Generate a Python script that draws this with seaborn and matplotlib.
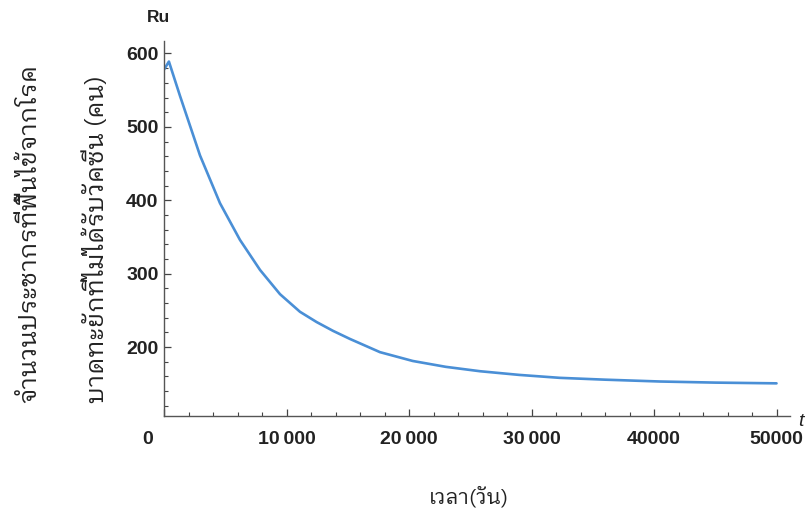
import numpy as np
import pandas as pd
import seaborn as sns
import matplotlib
matplotlib.use("Agg")
import matplotlib.pyplot as plt
from matplotlib import font_manager
from matplotlib.ft2font import FT2Font
from matplotlib.ticker import FixedLocator, MultipleLocator
import matplotlib.transforms as mtransforms

# ---- data ----
t_days = [0, 400, 1310, 2940, 4570, 6200, 7840, 9470, 11100, 12460,
          13800, 15180, 17630, 20300, 23000, 25800, 29000, 32300, 36000,
          40500, 45000, 50000]
ru_vals = [578, 589, 542, 461, 396, 346, 305, 272, 248, 234,
           222, 211, 193, 181, 173, 167, 162, 158, 155.5,
           153, 151.5, 150.5]
x_ticks = [0, 10000, 20000, 30000, 40000, 50000]
x_tick_labels = ["0", "10\u2009000", "20\u2009000", "30\u2009000", "40000", "50000"]
y_ticks = [200, 300, 400, 500, 600]
y_label_line1 = "จำนวนประชากรที่ฟื้นไข้จากโรค"
y_label_line2 = "บาดทะยักที่ไม่ได้รับวัคซีน (คน)"
x_label = "เวลา(วัน)"

df = pd.DataFrame({"t": t_days, "Ru": ru_vals})

sns.set_theme(style="white")
plt.rcParams["font.family"] = ["Liberation Sans", "DejaVu Sans"]
plt.rcParams.update({
    "xtick.bottom": True, "ytick.left": True,
    "xtick.direction": "in", "ytick.direction": "in",
    "xtick.major.size": 5, "ytick.major.size": 5,
    "xtick.minor.size": 3, "ytick.minor.size": 3,
    "xtick.major.width": 0.9, "ytick.major.width": 0.9,
    "xtick.minor.width": 0.8, "ytick.minor.width": 0.8,
    "xtick.color": "#444444", "ytick.color": "#444444",
})

# find an installed font with Thai glyphs (prefer looped styles)
thai_fonts = []
for f in font_manager.fontManager.ttflist:
    try:
        if 0x0E08 in FT2Font(f.fname).get_charmap():
            thai_fonts.append(f.name)
    except Exception:
        pass
def _rank(n):
    n2 = n.lower()
    for i, key in enumerate(["looped", "garuda", "loma", "sarabun", "norasi", "serif thai"]):
        if key in n2:
            return i
    return 10
thai_fonts.sort(key=_rank)
thai_family = thai_fonts[:1] + ["DejaVu Sans"]

fig = plt.figure(figsize=(8.12, 5.17), dpi=100)
ax = fig.add_axes([164 / 812, 1 - 416 / 517, (790 - 164) / 812, (416 - 41) / 517])

sns.lineplot(data=df, x="t", y="Ru", ax=ax, color="#4a8fd6", linewidth=1.9)

ax.set_xlim(0, 51100)
ax.set_ylim(106, 617)

for s in ["top", "right"]:
    ax.spines[s].set_visible(False)
for s in ["left", "bottom"]:
    ax.spines[s].set_color("#555555")
    ax.spines[s].set_linewidth(1.0)

ax.xaxis.set_major_locator(FixedLocator(x_ticks))
ax.set_xticklabels(x_tick_labels)
ax.xaxis.set_minor_locator(MultipleLocator(2000))
ax.yaxis.set_major_locator(FixedLocator(y_ticks))
ax.yaxis.set_minor_locator(MultipleLocator(20))
ax.tick_params(which="both", direction="in", bottom=True, left=True,
               top=False, right=False)
ax.tick_params(which="major", labelsize=14, labelcolor="#222222")
ax.tick_params(axis="x", which="major", pad=11)
ax.tick_params(axis="y", which="major", pad=4)
for lab in ax.get_xticklabels() + ax.get_yticklabels():
    lab.set_fontweight("bold")
# shift the origin label left, like the reference
lab0 = ax.get_xticklabels()[0]
lab0.set_transform(lab0.get_transform() +
                   mtransforms.ScaledTranslation(-16 / 100, 0, fig.dpi_scale_trans))

ax.set_xlabel("")
ax.set_ylabel("")

fig.text(158 / 812, 1 - 18 / 517, "Ru", ha="center", va="center",
         fontsize=12.5, fontweight="bold", color="#222222")
fig.text(801 / 812, 1 - 421 / 517, "t", ha="center", va="center",
         fontsize=14, fontstyle="italic", color="#222222")

fig.text(30 / 812, 1 - 403 / 517, y_label_line1, rotation=90, ha="center",
         va="bottom", fontsize=17.7, family=thai_family, color="#222222")
fig.text(96 / 812, 1 - 403 / 517, y_label_line2, rotation=90, ha="center",
         va="bottom", fontsize=17.7, family=thai_family, color="#222222")
fig.text(469 / 812, 1 - 497 / 517, x_label, ha="center", va="center",
         fontsize=15, family=thai_family, color="#222222")

fig.savefig("out.png", dpi=100, facecolor="white")
